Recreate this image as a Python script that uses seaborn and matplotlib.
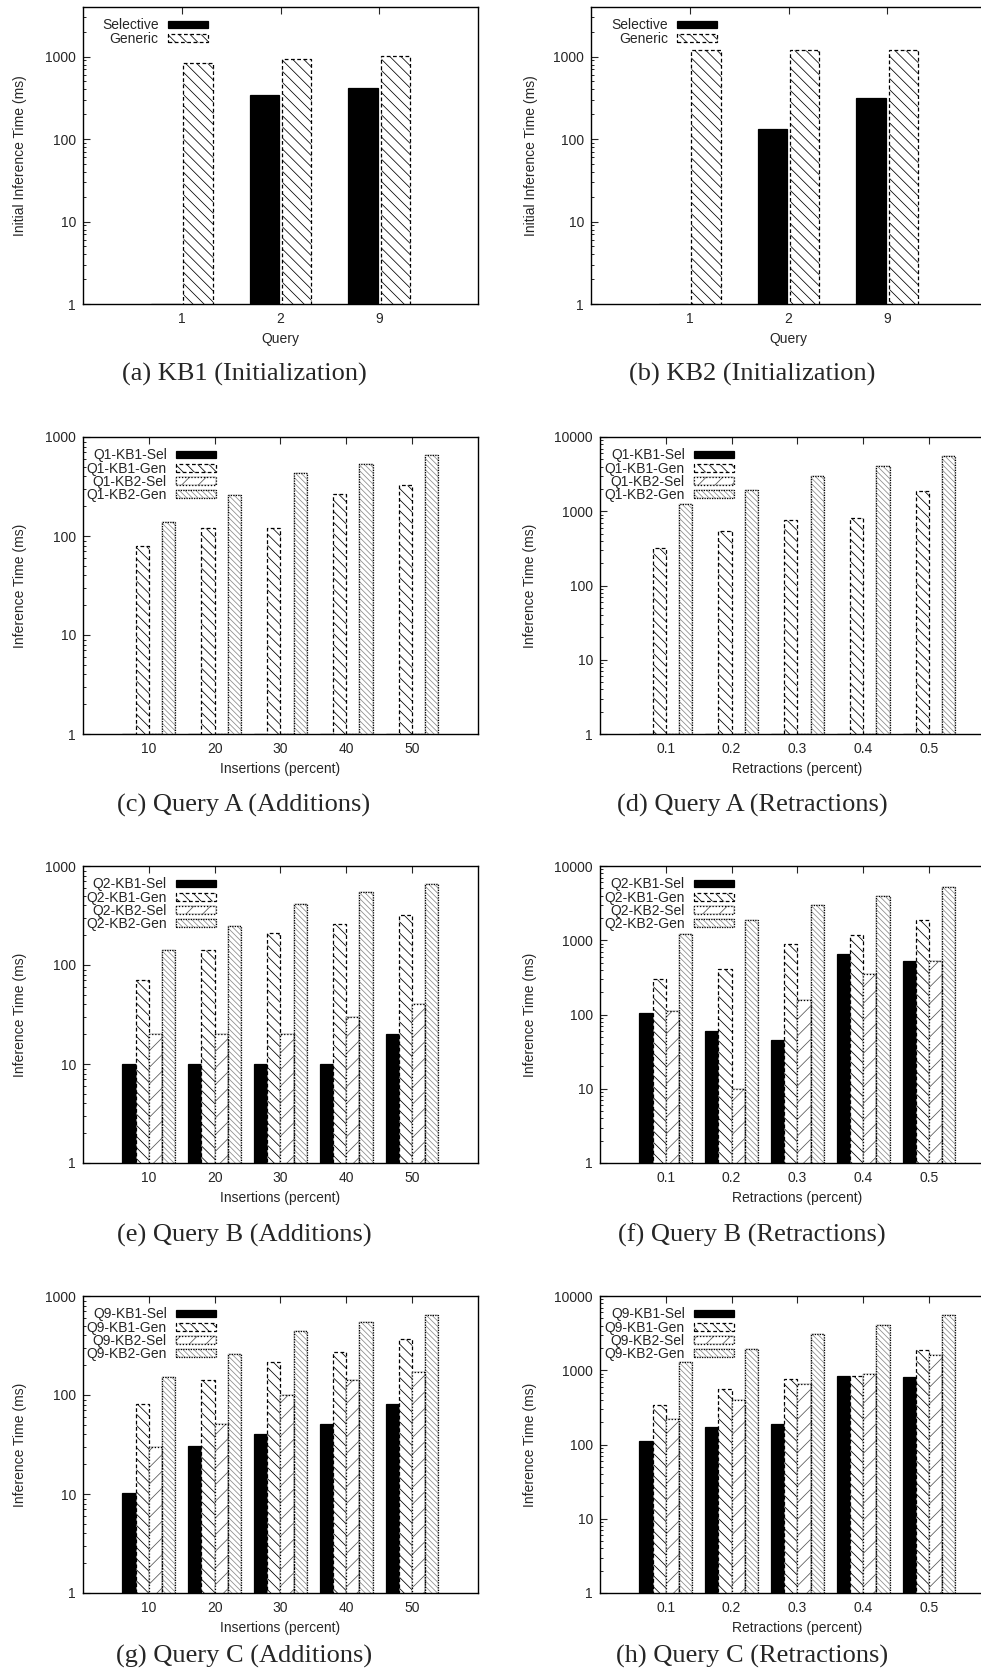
import pandas as pd
import matplotlib
matplotlib.use("Agg")
import matplotlib.pyplot as plt
import matplotlib.patches as mpatches
from matplotlib.ticker import FuncFormatter, NullFormatter, LogLocator
import seaborn as sns

# ---- values (ms) ----
queries = ["1", "2", "9"]
init_kb1_sel = [1, 345, 418]
init_kb1_gen = [840, 940, 1010]
init_kb2_sel = [1, 132, 315]
init_kb2_gen = [1220, 1220, 1220]

insert_pct = ["10", "20", "30", "40", "50"]
retract_pct = ["0.1", "0.2", "0.3", "0.4", "0.5"]

# Query A (Q1)
q1_add_kb1_sel = [1, 1, 1, 1, 1]
q1_add_kb1_gen = [80, 120, 120, 264, 325]
q1_add_kb2_sel = [1, 1, 1, 1, 1]
q1_add_kb2_gen = [140, 261, 432, 533, 652]
q1_ret_kb1_sel = [1, 1, 1, 1, 1]
q1_ret_kb1_gen = [322, 540, 752, 817, 1850]
q1_ret_kb2_sel = [1, 1, 1, 1, 1]
q1_ret_kb2_gen = [1262, 1910, 2950, 4020, 5490]

# Query B (Q2)
q2_add_kb1_sel = [10, 10, 10, 10, 20]
q2_add_kb1_gen = [70, 143, 211, 260, 321]
q2_add_kb2_sel = [20, 20, 20, 30, 40]
q2_add_kb2_gen = [143, 250, 415, 545, 651]
q2_ret_kb1_sel = [106, 60, 45, 647, 531]
q2_ret_kb1_gen = [300, 410, 892, 1168, 1862]
q2_ret_kb2_sel = [110, 10, 158, 347, 520]
q2_ret_kb2_gen = [1218, 1902, 3000, 3970, 5250]

# Query C (Q9)
q9_add_kb1_sel = [10.3, 30.6, 40.5, 51, 82]
q9_add_kb1_gen = [82, 143, 213, 273, 366]
q9_add_kb2_sel = [30, 51, 100, 143, 172]
q9_add_kb2_gen = [152, 260, 445, 545, 637]
q9_ret_kb1_sel = [112, 173, 190, 830, 804]
q9_ret_kb1_gen = [344, 565, 764, 830, 1902]
q9_ret_kb2_sel = [222, 401, 654, 901, 1628]
q9_ret_kb2_gen = [1297, 1941, 3035, 4100, 5480]

# ---- styling (gnuplot-like patterns) ----
sns.set_style("ticks")
plt.rcParams["font.family"] = ["Liberation Sans", "DejaVu Sans"]
plt.rcParams["hatch.linewidth"] = 0.55

SEL = dict(fc="black", ec="black", hatch=None, hc="black", ls="-")
GEN = dict(fc="white", ec="black", hatch="\\\\\\", hc="black", ls=(0, (3, 2)))
KB2SEL = dict(fc="white", ec="black", hatch="//", hc="#555555", ls=(0, (1, 1.5)))
KB2GEN = dict(fc="white", ec="black", hatch="\\\\\\\\\\\\", hc="#8a8a8a", ls=(0, (1, 1)))

W, H = 981, 1677
fig = plt.figure(figsize=(W / 100, H / 100), dpi=100)


def make_axes(left_px, top_px):
    return fig.add_axes([left_px / W, 1 - (top_px + 297) / H, 395 / W, 297 / H])


def panel(ax, cats, cols, labels, styles, xlabel, ylabel, ymax, leg_x, ylab_x,
          width=0.8, gap=0.0):
    df = pd.DataFrame({"x": cats})
    for lab, vals in zip(labels, cols):
        df[lab] = vals
    long = df.melt(id_vars="x", var_name="series", value_name="ms")
    sns.barplot(data=long, x="x", y="ms", hue="series", hue_order=labels,
                order=cats, width=width, gap=gap, errorbar=None,
                legend=False, saturation=1, ax=ax)
    ax.set_yscale("log")

    for cont, st in zip(ax.containers, styles):
        for bar in cont:
            bar.set_facecolor(st["fc"])
            bar.set_hatch(st["hatch"])
            if st["hc"] != st["ec"]:
                bar.set_edgecolor(st["hc"])
                bar.set_linewidth(0.3)
                ax.add_patch(mpatches.Rectangle(
                    bar.get_xy(), bar.get_width(), bar.get_height(),
                    fill=False, ec=st["ec"], ls=st["ls"], lw=0.9,
                    zorder=bar.get_zorder() + 0.1))
            else:
                bar.set_edgecolor(st["ec"])
                bar.set_linestyle(st["ls"])
                bar.set_linewidth(0.9)

    handles = []
    for st in styles:
        if st["hc"] != st["ec"]:
            handles.append((
                mpatches.Patch(fc=st["fc"], ec=st["hc"], hatch=st["hatch"], lw=0.3),
                mpatches.Patch(fill=False, ec=st["ec"], ls=st["ls"], lw=0.9)))
        else:
            handles.append(mpatches.Patch(fc=st["fc"], ec=st["ec"], hatch=st["hatch"],
                                          ls=st["ls"], lw=0.9))
    ax.legend(handles=handles, labels=labels, loc="upper right",
              bbox_to_anchor=(leg_x, 0.985), markerfirst=False, frameon=False,
              borderpad=0, handlelength=2.9, handleheight=0.5,
              handletextpad=0.65, labelspacing=-0.05, fontsize=10)

    ax.set_xlim(-1, len(cats))
    ax.set_ylim(1, ymax)
    ax.yaxis.set_major_locator(LogLocator(base=10))
    ax.yaxis.set_minor_locator(LogLocator(base=10, subs=range(2, 10)))
    ax.yaxis.set_major_formatter(FuncFormatter(lambda v, p: f"{v:g}"))
    ax.yaxis.set_minor_formatter(NullFormatter())
    ax.tick_params(axis="y", which="major", direction="in", length=5, width=0.8,
                   labelsize=10, pad=5, left=True, right=False)
    ax.tick_params(axis="y", which="minor", direction="in", length=2.5, width=0.7,
                   left=True, right=False)
    ax.tick_params(axis="x", which="major", direction="in", length=5, width=0.8,
                   labelsize=10, pad=5.5, bottom=False, top=True, labelbottom=True)
    for s in ax.spines.values():
        s.set_visible(True)
        s.set_linewidth(1.0)
        s.set_color("black")

    ax.set_xlabel(xlabel, fontsize=10)
    ax.set_ylabel(ylabel, fontsize=10)
    ax.xaxis.set_label_coords(0.5, -0.094)
    ax.yaxis.set_label_coords(ylab_x, 0.5)


rows = [7, 437, 866, 1296]
caps_y = [374, 805, 1235, 1656]

# (a) / (b) initialization
ax = make_axes(83, rows[0])
panel(ax, queries, [init_kb1_sel, init_kb1_gen], ["Selective", "Generic"], [SEL, GEN],
      "Query", "Initial Inference Time (ms)", 4000, 0.334, -0.141, width=0.66, gap=0.1)
ax = make_axes(591, rows[0])
panel(ax, queries, [init_kb2_sel, init_kb2_gen], ["Selective", "Generic"], [SEL, GEN],
      "Query", "Initial Inference Time (ms)", 4000, 0.337, -0.134, width=0.66, gap=0.1)

styles4 = [SEL, GEN, KB2SEL, KB2GEN]
blocks = [
    ("Q1", [q1_add_kb1_sel, q1_add_kb1_gen, q1_add_kb2_sel, q1_add_kb2_gen],
     [q1_ret_kb1_sel, q1_ret_kb1_gen, q1_ret_kb2_sel, q1_ret_kb2_gen]),
    ("Q2", [q2_add_kb1_sel, q2_add_kb1_gen, q2_add_kb2_sel, q2_add_kb2_gen],
     [q2_ret_kb1_sel, q2_ret_kb1_gen, q2_ret_kb2_sel, q2_ret_kb2_gen]),
    ("Q9", [q9_add_kb1_sel, q9_add_kb1_gen, q9_add_kb2_sel, q9_add_kb2_gen],
     [q9_ret_kb1_sel, q9_ret_kb1_gen, q9_ret_kb2_sel, q9_ret_kb2_gen]),
]
for i, (q, add_cols, ret_cols) in enumerate(blocks, start=1):
    labels = [f"{q}-KB1-Sel", f"{q}-KB1-Gen", f"{q}-KB2-Sel", f"{q}-KB2-Gen"]
    ax = make_axes(83, rows[i])
    panel(ax, insert_pct, add_cols, labels, styles4, "Insertions (percent)",
          "Inference Time (ms)", 1000, 0.355, -0.141)
    ax = make_axes(600, rows[i])
    panel(ax, retract_pct, ret_cols, labels, styles4, "Retractions (percent)",
          "Inference Time (ms)", 10000, 0.357, -0.160)

captions = [
    ("(a) KB1 (Initialization)", "(b) KB2 (Initialization)"),
    ("(c) Query A (Additions)", "(d) Query A (Retractions)"),
    ("(e) Query B (Additions)", "(f) Query B (Retractions)"),
    ("(g) Query C (Additions)", "(h) Query C (Retractions)"),
]
for (left_cap, right_cap), cy in zip(captions, caps_y):
    fig.text(244 / W, 1 - cy / H, left_cap, ha="center", va="center",
             family=["Liberation Serif", "DejaVu Serif"], fontsize=19)
    fig.text(752 / W, 1 - cy / H, right_cap, ha="center", va="center",
             family=["Liberation Serif", "DejaVu Serif"], fontsize=19)

fig.savefig("out.png", dpi=100)
